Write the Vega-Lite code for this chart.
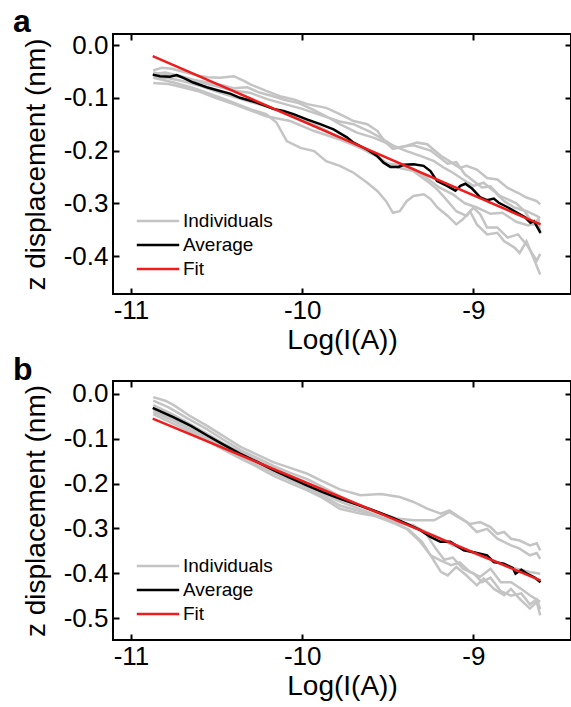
{
  "$schema": "https://vega.github.io/schema/vega-lite/v6.json",
  "background": "white",
  "padding": {"left": 12, "top": 5, "right": 0, "bottom": 0},
  "config": {
    "font": "Liberation Sans",
    "view": {"stroke": "black", "strokeWidth": 2},
    "axis": {"domain": false, "grid": false, "ticks": true, "tickColor": "black", "tickWidth": 2, "tickSize": -6, "labelColor": "black", "labelFontSize": 26, "titleFontSize": 28, "titleFontWeight": "normal", "titleColor": "black"},
    "legend": {"orient": "none", "symbolType": "M-2,0H2", "symbolSize": 450, "symbolStrokeWidth": 2.5, "labelFontSize": 19, "labelColor": "black", "rowPadding": 2, "labelOffset": 13, "padding": 0, "title": null},
    "title": {"anchor": "start", "frame": "group", "fontSize": 32, "fontWeight": "bold", "color": "black", "dx": -100, "baseline": "alphabetic", "offset": -7}
  },
  "resolve": {"scale": {"color": "independent"}, "legend": {"color": "independent"}},
  "spacing": -2,
  "datasets": {
    "a": [
      {"s":"Individuals","c":"1","x":-10.87,"y":-0.048},{"s":"Individuals","c":"1","x":-10.82,"y":-0.043},{"s":"Individuals","c":"1","x":-10.76,"y":-0.045},{"s":"Individuals","c":"1","x":-10.70,"y":-0.050},{"s":"Individuals","c":"1","x":-10.62,"y":-0.057},{"s":"Individuals","c":"1","x":-10.55,"y":-0.061},{"s":"Individuals","c":"1","x":-10.48,"y":-0.062},{"s":"Individuals","c":"1","x":-10.40,"y":-0.059},{"s":"Individuals","c":"1","x":-10.34,"y":-0.068},{"s":"Individuals","c":"1","x":-10.30,"y":-0.075},{"s":"Individuals","c":"1","x":-10.21,"y":-0.087},{"s":"Individuals","c":"1","x":-10.13,"y":-0.097},{"s":"Individuals","c":"1","x":-10.05,"y":-0.103},{"s":"Individuals","c":"1","x":-9.97,"y":-0.112},{"s":"Individuals","c":"1","x":-9.86,"y":-0.119},{"s":"Individuals","c":"1","x":-9.78,"y":-0.131},{"s":"Individuals","c":"1","x":-9.70,"y":-0.144},{"s":"Individuals","c":"1","x":-9.62,"y":-0.150},{"s":"Individuals","c":"1","x":-9.56,"y":-0.163},{"s":"Individuals","c":"1","x":-9.52,"y":-0.182},{"s":"Individuals","c":"1","x":-9.47,"y":-0.197},{"s":"Individuals","c":"1","x":-9.39,"y":-0.191},{"s":"Individuals","c":"1","x":-9.33,"y":-0.185},{"s":"Individuals","c":"1","x":-9.27,"y":-0.188},{"s":"Individuals","c":"1","x":-9.19,"y":-0.210},{"s":"Individuals","c":"1","x":-9.14,"y":-0.220},{"s":"Individuals","c":"1","x":-9.08,"y":-0.233},{"s":"Individuals","c":"1","x":-9.04,"y":-0.229},{"s":"Individuals","c":"1","x":-8.98,"y":-0.236},{"s":"Individuals","c":"1","x":-8.92,"y":-0.252},{"s":"Individuals","c":"1","x":-8.86,"y":-0.255},{"s":"Individuals","c":"1","x":-8.80,"y":-0.271},{"s":"Individuals","c":"1","x":-8.74,"y":-0.280},{"s":"Individuals","c":"1","x":-8.69,"y":-0.289},{"s":"Individuals","c":"1","x":-8.63,"y":-0.296},{"s":"Individuals","c":"1","x":-8.61,"y":-0.302},
      {"s":"Individuals","c":"2","x":-10.87,"y":-0.055},{"s":"Individuals","c":"2","x":-10.80,"y":-0.052},{"s":"Individuals","c":"2","x":-10.72,"y":-0.058},{"s":"Individuals","c":"2","x":-10.63,"y":-0.066},{"s":"Individuals","c":"2","x":-10.55,"y":-0.071},{"s":"Individuals","c":"2","x":-10.48,"y":-0.075},{"s":"Individuals","c":"2","x":-10.40,"y":-0.082},{"s":"Individuals","c":"2","x":-10.32,"y":-0.080},{"s":"Individuals","c":"2","x":-10.25,"y":-0.090},{"s":"Individuals","c":"2","x":-10.17,"y":-0.097},{"s":"Individuals","c":"2","x":-10.10,"y":-0.104},{"s":"Individuals","c":"2","x":-10.02,"y":-0.110},{"s":"Individuals","c":"2","x":-9.94,"y":-0.122},{"s":"Individuals","c":"2","x":-9.86,"y":-0.135},{"s":"Individuals","c":"2","x":-9.78,"y":-0.150},{"s":"Individuals","c":"2","x":-9.68,"y":-0.166},{"s":"Individuals","c":"2","x":-9.58,"y":-0.176},{"s":"Individuals","c":"2","x":-9.49,"y":-0.188},{"s":"Individuals","c":"2","x":-9.39,"y":-0.201},{"s":"Individuals","c":"2","x":-9.31,"y":-0.210},{"s":"Individuals","c":"2","x":-9.23,"y":-0.220},{"s":"Individuals","c":"2","x":-9.17,"y":-0.233},{"s":"Individuals","c":"2","x":-9.12,"y":-0.242},{"s":"Individuals","c":"2","x":-9.06,"y":-0.255},{"s":"Individuals","c":"2","x":-9.00,"y":-0.267},{"s":"Individuals","c":"2","x":-8.94,"y":-0.261},{"s":"Individuals","c":"2","x":-8.88,"y":-0.277},{"s":"Individuals","c":"2","x":-8.82,"y":-0.296},{"s":"Individuals","c":"2","x":-8.76,"y":-0.308},{"s":"Individuals","c":"2","x":-8.69,"y":-0.315},{"s":"Individuals","c":"2","x":-8.63,"y":-0.324},{"s":"Individuals","c":"2","x":-8.61,"y":-0.328},
      {"s":"Individuals","c":"3","x":-10.87,"y":-0.060},{"s":"Individuals","c":"3","x":-10.78,"y":-0.063},{"s":"Individuals","c":"3","x":-10.70,"y":-0.068},{"s":"Individuals","c":"3","x":-10.60,"y":-0.077},{"s":"Individuals","c":"3","x":-10.50,"y":-0.088},{"s":"Individuals","c":"3","x":-10.40,"y":-0.098},{"s":"Individuals","c":"3","x":-10.30,"y":-0.108},{"s":"Individuals","c":"3","x":-10.20,"y":-0.117},{"s":"Individuals","c":"3","x":-10.10,"y":-0.130},{"s":"Individuals","c":"3","x":-10.00,"y":-0.142},{"s":"Individuals","c":"3","x":-9.90,"y":-0.155},{"s":"Individuals","c":"3","x":-9.78,"y":-0.176},{"s":"Individuals","c":"3","x":-9.66,"y":-0.195},{"s":"Individuals","c":"3","x":-9.58,"y":-0.207},{"s":"Individuals","c":"3","x":-9.51,"y":-0.223},{"s":"Individuals","c":"3","x":-9.43,"y":-0.233},{"s":"Individuals","c":"3","x":-9.35,"y":-0.239},{"s":"Individuals","c":"3","x":-9.27,"y":-0.258},{"s":"Individuals","c":"3","x":-9.21,"y":-0.274},{"s":"Individuals","c":"3","x":-9.15,"y":-0.296},{"s":"Individuals","c":"3","x":-9.10,"y":-0.315},{"s":"Individuals","c":"3","x":-9.04,"y":-0.324},{"s":"Individuals","c":"3","x":-9.00,"y":-0.308},{"s":"Individuals","c":"3","x":-8.96,"y":-0.321},{"s":"Individuals","c":"3","x":-8.92,"y":-0.346},{"s":"Individuals","c":"3","x":-8.86,"y":-0.346},{"s":"Individuals","c":"3","x":-8.80,"y":-0.365},{"s":"Individuals","c":"3","x":-8.74,"y":-0.359},{"s":"Individuals","c":"3","x":-8.69,"y":-0.378},{"s":"Individuals","c":"3","x":-8.63,"y":-0.409},{"s":"Individuals","c":"3","x":-8.61,"y":-0.396},
      {"s":"Individuals","c":"4","x":-10.87,"y":-0.072},{"s":"Individuals","c":"4","x":-10.78,"y":-0.074},{"s":"Individuals","c":"4","x":-10.70,"y":-0.080},{"s":"Individuals","c":"4","x":-10.60,"y":-0.088},{"s":"Individuals","c":"4","x":-10.50,"y":-0.101},{"s":"Individuals","c":"4","x":-10.40,"y":-0.112},{"s":"Individuals","c":"4","x":-10.30,"y":-0.124},{"s":"Individuals","c":"4","x":-10.21,"y":-0.135},{"s":"Individuals","c":"4","x":-10.07,"y":-0.144},{"s":"Individuals","c":"4","x":-9.93,"y":-0.163},{"s":"Individuals","c":"4","x":-9.78,"y":-0.179},{"s":"Individuals","c":"4","x":-9.66,"y":-0.195},{"s":"Individuals","c":"4","x":-9.57,"y":-0.210},{"s":"Individuals","c":"4","x":-9.50,"y":-0.225},{"s":"Individuals","c":"4","x":-9.42,"y":-0.228},{"s":"Individuals","c":"4","x":-9.35,"y":-0.235},{"s":"Individuals","c":"4","x":-9.28,"y":-0.250},{"s":"Individuals","c":"4","x":-9.20,"y":-0.270},{"s":"Individuals","c":"4","x":-9.12,"y":-0.283},{"s":"Individuals","c":"4","x":-9.05,"y":-0.300},{"s":"Individuals","c":"4","x":-8.98,"y":-0.308},{"s":"Individuals","c":"4","x":-8.90,"y":-0.320},{"s":"Individuals","c":"4","x":-8.83,"y":-0.318},{"s":"Individuals","c":"4","x":-8.75,"y":-0.335},{"s":"Individuals","c":"4","x":-8.68,"y":-0.342},{"s":"Individuals","c":"4","x":-8.63,"y":-0.337},{"s":"Individuals","c":"4","x":-8.61,"y":-0.353},
      {"s":"Individuals","c":"5","x":-10.87,"y":-0.052},{"s":"Individuals","c":"5","x":-10.80,"y":-0.056},{"s":"Individuals","c":"5","x":-10.70,"y":-0.061},{"s":"Individuals","c":"5","x":-10.60,"y":-0.070},{"s":"Individuals","c":"5","x":-10.50,"y":-0.078},{"s":"Individuals","c":"5","x":-10.40,"y":-0.086},{"s":"Individuals","c":"5","x":-10.30,"y":-0.091},{"s":"Individuals","c":"5","x":-10.20,"y":-0.103},{"s":"Individuals","c":"5","x":-10.10,"y":-0.112},{"s":"Individuals","c":"5","x":-10.00,"y":-0.121},{"s":"Individuals","c":"5","x":-9.90,"y":-0.132},{"s":"Individuals","c":"5","x":-9.78,"y":-0.145},{"s":"Individuals","c":"5","x":-9.70,"y":-0.150},{"s":"Individuals","c":"5","x":-9.60,"y":-0.165},{"s":"Individuals","c":"5","x":-9.52,"y":-0.180},{"s":"Individuals","c":"5","x":-9.45,"y":-0.195},{"s":"Individuals","c":"5","x":-9.40,"y":-0.192},{"s":"Individuals","c":"5","x":-9.35,"y":-0.190},{"s":"Individuals","c":"5","x":-9.25,"y":-0.200},{"s":"Individuals","c":"5","x":-9.15,"y":-0.225},{"s":"Individuals","c":"5","x":-9.10,"y":-0.222},{"s":"Individuals","c":"5","x":-9.05,"y":-0.245},{"s":"Individuals","c":"5","x":-8.95,"y":-0.270},{"s":"Individuals","c":"5","x":-8.90,"y":-0.268},{"s":"Individuals","c":"5","x":-8.85,"y":-0.285},{"s":"Individuals","c":"5","x":-8.75,"y":-0.300},{"s":"Individuals","c":"5","x":-8.70,"y":-0.315},{"s":"Individuals","c":"5","x":-8.65,"y":-0.340},{"s":"Individuals","c":"5","x":-8.62,"y":-0.330},{"s":"Individuals","c":"5","x":-8.61,"y":-0.358},
      {"s":"Individuals","c":"6","x":-10.87,"y":-0.062},{"s":"Individuals","c":"6","x":-10.75,"y":-0.071},{"s":"Individuals","c":"6","x":-10.64,"y":-0.081},{"s":"Individuals","c":"6","x":-10.50,"y":-0.097},{"s":"Individuals","c":"6","x":-10.40,"y":-0.109},{"s":"Individuals","c":"6","x":-10.30,"y":-0.122},{"s":"Individuals","c":"6","x":-10.21,"y":-0.131},{"s":"Individuals","c":"6","x":-10.15,"y":-0.147},{"s":"Individuals","c":"6","x":-10.09,"y":-0.182},{"s":"Individuals","c":"6","x":-10.01,"y":-0.195},{"s":"Individuals","c":"6","x":-9.93,"y":-0.201},{"s":"Individuals","c":"6","x":-9.86,"y":-0.220},{"s":"Individuals","c":"6","x":-9.78,"y":-0.229},{"s":"Individuals","c":"6","x":-9.70,"y":-0.242},{"s":"Individuals","c":"6","x":-9.62,"y":-0.261},{"s":"Individuals","c":"6","x":-9.56,"y":-0.277},{"s":"Individuals","c":"6","x":-9.51,"y":-0.296},{"s":"Individuals","c":"6","x":-9.47,"y":-0.318},{"s":"Individuals","c":"6","x":-9.43,"y":-0.315},{"s":"Individuals","c":"6","x":-9.39,"y":-0.296},{"s":"Individuals","c":"6","x":-9.35,"y":-0.286},{"s":"Individuals","c":"6","x":-9.29,"y":-0.283},{"s":"Individuals","c":"6","x":-9.25,"y":-0.292},{"s":"Individuals","c":"6","x":-9.21,"y":-0.308},{"s":"Individuals","c":"6","x":-9.15,"y":-0.324},{"s":"Individuals","c":"6","x":-9.10,"y":-0.340},{"s":"Individuals","c":"6","x":-9.06,"y":-0.330},{"s":"Individuals","c":"6","x":-9.02,"y":-0.315},{"s":"Individuals","c":"6","x":-8.98,"y":-0.340},{"s":"Individuals","c":"6","x":-8.92,"y":-0.359},{"s":"Individuals","c":"6","x":-8.86,"y":-0.356},{"s":"Individuals","c":"6","x":-8.82,"y":-0.372},{"s":"Individuals","c":"6","x":-8.76,"y":-0.384},{"s":"Individuals","c":"6","x":-8.73,"y":-0.394},{"s":"Individuals","c":"6","x":-8.69,"y":-0.372},{"s":"Individuals","c":"6","x":-8.65,"y":-0.403},{"s":"Individuals","c":"6","x":-8.61,"y":-0.435},
      {"s":"Average","c":"avg","x":-10.873,"y":-0.056},{"s":"Average","c":"avg","x":-10.83,"y":-0.059},{"s":"Average","c":"avg","x":-10.772,"y":-0.060},{"s":"Average","c":"avg","x":-10.733,"y":-0.057},{"s":"Average","c":"avg","x":-10.694,"y":-0.062},{"s":"Average","c":"avg","x":-10.636,"y":-0.071},{"s":"Average","c":"avg","x":-10.557,"y":-0.080},{"s":"Average","c":"avg","x":-10.48,"y":-0.087},{"s":"Average","c":"avg","x":-10.421,"y":-0.092},{"s":"Average","c":"avg","x":-10.363,"y":-0.100},{"s":"Average","c":"avg","x":-10.285,"y":-0.107},{"s":"Average","c":"avg","x":-10.206,"y":-0.116},{"s":"Average","c":"avg","x":-10.168,"y":-0.121},{"s":"Average","c":"avg","x":-10.109,"y":-0.125},{"s":"Average","c":"avg","x":-10.051,"y":-0.131},{"s":"Average","c":"avg","x":-9.973,"y":-0.141},{"s":"Average","c":"avg","x":-9.895,"y":-0.150},{"s":"Average","c":"avg","x":-9.817,"y":-0.160},{"s":"Average","c":"avg","x":-9.739,"y":-0.175},{"s":"Average","c":"avg","x":-9.700,"y":-0.185},{"s":"Average","c":"avg","x":-9.622,"y":-0.198},{"s":"Average","c":"avg","x":-9.563,"y":-0.210},{"s":"Average","c":"avg","x":-9.525,"y":-0.223},{"s":"Average","c":"avg","x":-9.485,"y":-0.231},{"s":"Average","c":"avg","x":-9.437,"y":-0.231},{"s":"Average","c":"avg","x":-9.407,"y":-0.227},{"s":"Average","c":"avg","x":-9.349,"y":-0.226},{"s":"Average","c":"avg","x":-9.291,"y":-0.229},{"s":"Average","c":"avg","x":-9.251,"y":-0.239},{"s":"Average","c":"avg","x":-9.212,"y":-0.258},{"s":"Average","c":"avg","x":-9.154,"y":-0.267},{"s":"Average","c":"avg","x":-9.105,"y":-0.276},{"s":"Average","c":"avg","x":-9.076,"y":-0.267},{"s":"Average","c":"avg","x":-9.047,"y":-0.263},{"s":"Average","c":"avg","x":-9.008,"y":-0.272},{"s":"Average","c":"avg","x":-8.959,"y":-0.289},{"s":"Average","c":"avg","x":-8.920,"y":-0.294},{"s":"Average","c":"avg","x":-8.881,"y":-0.291},{"s":"Average","c":"avg","x":-8.852,"y":-0.299},{"s":"Average","c":"avg","x":-8.803,"y":-0.307},{"s":"Average","c":"avg","x":-8.744,"y":-0.318},{"s":"Average","c":"avg","x":-8.696,"y":-0.327},{"s":"Average","c":"avg","x":-8.667,"y":-0.337},{"s":"Average","c":"avg","x":-8.647,"y":-0.334},{"s":"Average","c":"avg","x":-8.608,"y":-0.356},
      {"s":"Fit","c":"fit","x":-10.873,"y":-0.021},{"s":"Fit","c":"fit","x":-8.608,"y":-0.340}
    ],
    "b": [
      {"s":"Individuals","c":"1","x":-10.87,"y":-0.007},{"s":"Individuals","c":"1","x":-10.80,"y":-0.015},{"s":"Individuals","c":"1","x":-10.75,"y":-0.025},{"s":"Individuals","c":"1","x":-10.66,"y":-0.048},{"s":"Individuals","c":"1","x":-10.56,"y":-0.070},{"s":"Individuals","c":"1","x":-10.46,"y":-0.094},{"s":"Individuals","c":"1","x":-10.36,"y":-0.118},{"s":"Individuals","c":"1","x":-10.26,"y":-0.136},{"s":"Individuals","c":"1","x":-10.17,"y":-0.152},{"s":"Individuals","c":"1","x":-10.07,"y":-0.165},{"s":"Individuals","c":"1","x":-9.97,"y":-0.178},{"s":"Individuals","c":"1","x":-9.88,"y":-0.195},{"s":"Individuals","c":"1","x":-9.78,"y":-0.213},{"s":"Individuals","c":"1","x":-9.66,"y":-0.226},{"s":"Individuals","c":"1","x":-9.54,"y":-0.223},{"s":"Individuals","c":"1","x":-9.43,"y":-0.230},{"s":"Individuals","c":"1","x":-9.35,"y":-0.241},{"s":"Individuals","c":"1","x":-9.27,"y":-0.256},{"s":"Individuals","c":"1","x":-9.19,"y":-0.267},{"s":"Individuals","c":"1","x":-9.14,"y":-0.260},{"s":"Individuals","c":"1","x":-9.08,"y":-0.275},{"s":"Individuals","c":"1","x":-9.02,"y":-0.290},{"s":"Individuals","c":"1","x":-8.96,"y":-0.286},{"s":"Individuals","c":"1","x":-8.90,"y":-0.297},{"s":"Individuals","c":"1","x":-8.86,"y":-0.312},{"s":"Individuals","c":"1","x":-8.82,"y":-0.308},{"s":"Individuals","c":"1","x":-8.78,"y":-0.323},{"s":"Individuals","c":"1","x":-8.73,"y":-0.327},{"s":"Individuals","c":"1","x":-8.67,"y":-0.338},{"s":"Individuals","c":"1","x":-8.63,"y":-0.333},{"s":"Individuals","c":"1","x":-8.61,"y":-0.349},
      {"s":"Individuals","c":"2","x":-10.87,"y":-0.015},{"s":"Individuals","c":"2","x":-10.78,"y":-0.030},{"s":"Individuals","c":"2","x":-10.68,"y":-0.052},{"s":"Individuals","c":"2","x":-10.56,"y":-0.078},{"s":"Individuals","c":"2","x":-10.46,"y":-0.102},{"s":"Individuals","c":"2","x":-10.36,"y":-0.125},{"s":"Individuals","c":"2","x":-10.26,"y":-0.143},{"s":"Individuals","c":"2","x":-10.17,"y":-0.160},{"s":"Individuals","c":"2","x":-10.07,"y":-0.176},{"s":"Individuals","c":"2","x":-9.97,"y":-0.190},{"s":"Individuals","c":"2","x":-9.88,"y":-0.208},{"s":"Individuals","c":"2","x":-9.78,"y":-0.228},{"s":"Individuals","c":"2","x":-9.68,"y":-0.246},{"s":"Individuals","c":"2","x":-9.58,"y":-0.263},{"s":"Individuals","c":"2","x":-9.45,"y":-0.278},{"s":"Individuals","c":"2","x":-9.35,"y":-0.282},{"s":"Individuals","c":"2","x":-9.23,"y":-0.282},{"s":"Individuals","c":"2","x":-9.14,"y":-0.263},{"s":"Individuals","c":"2","x":-9.04,"y":-0.286},{"s":"Individuals","c":"2","x":-8.98,"y":-0.308},{"s":"Individuals","c":"2","x":-8.92,"y":-0.301},{"s":"Individuals","c":"2","x":-8.86,"y":-0.323},{"s":"Individuals","c":"2","x":-8.78,"y":-0.338},{"s":"Individuals","c":"2","x":-8.73,"y":-0.345},{"s":"Individuals","c":"2","x":-8.67,"y":-0.360},{"s":"Individuals","c":"2","x":-8.63,"y":-0.355},{"s":"Individuals","c":"2","x":-8.61,"y":-0.368},
      {"s":"Individuals","c":"3","x":-10.87,"y":-0.025},{"s":"Individuals","c":"3","x":-10.76,"y":-0.045},{"s":"Individuals","c":"3","x":-10.66,"y":-0.066},{"s":"Individuals","c":"3","x":-10.56,"y":-0.088},{"s":"Individuals","c":"3","x":-10.46,"y":-0.110},{"s":"Individuals","c":"3","x":-10.36,"y":-0.130},{"s":"Individuals","c":"3","x":-10.26,"y":-0.148},{"s":"Individuals","c":"3","x":-10.17,"y":-0.165},{"s":"Individuals","c":"3","x":-10.07,"y":-0.182},{"s":"Individuals","c":"3","x":-9.97,"y":-0.198},{"s":"Individuals","c":"3","x":-9.88,"y":-0.214},{"s":"Individuals","c":"3","x":-9.78,"y":-0.232},{"s":"Individuals","c":"3","x":-9.66,"y":-0.248},{"s":"Individuals","c":"3","x":-9.54,"y":-0.266},{"s":"Individuals","c":"3","x":-9.42,"y":-0.285},{"s":"Individuals","c":"3","x":-9.32,"y":-0.300},{"s":"Individuals","c":"3","x":-9.22,"y":-0.318},{"s":"Individuals","c":"3","x":-9.12,"y":-0.338},{"s":"Individuals","c":"3","x":-9.04,"y":-0.348},{"s":"Individuals","c":"3","x":-8.96,"y":-0.362},{"s":"Individuals","c":"3","x":-8.88,"y":-0.372},{"s":"Individuals","c":"3","x":-8.80,"y":-0.386},{"s":"Individuals","c":"3","x":-8.72,"y":-0.392},{"s":"Individuals","c":"3","x":-8.66,"y":-0.398},{"s":"Individuals","c":"3","x":-8.61,"y":-0.401},
      {"s":"Individuals","c":"4","x":-10.87,"y":-0.035},{"s":"Individuals","c":"4","x":-10.76,"y":-0.055},{"s":"Individuals","c":"4","x":-10.66,"y":-0.076},{"s":"Individuals","c":"4","x":-10.56,"y":-0.098},{"s":"Individuals","c":"4","x":-10.46,"y":-0.118},{"s":"Individuals","c":"4","x":-10.36,"y":-0.135},{"s":"Individuals","c":"4","x":-10.26,"y":-0.153},{"s":"Individuals","c":"4","x":-10.17,"y":-0.170},{"s":"Individuals","c":"4","x":-10.07,"y":-0.188},{"s":"Individuals","c":"4","x":-9.97,"y":-0.205},{"s":"Individuals","c":"4","x":-9.88,"y":-0.222},{"s":"Individuals","c":"4","x":-9.78,"y":-0.240},{"s":"Individuals","c":"4","x":-9.66,"y":-0.257},{"s":"Individuals","c":"4","x":-9.54,"y":-0.275},{"s":"Individuals","c":"4","x":-9.45,"y":-0.290},{"s":"Individuals","c":"4","x":-9.38,"y":-0.302},{"s":"Individuals","c":"4","x":-9.30,"y":-0.330},{"s":"Individuals","c":"4","x":-9.25,"y":-0.360},{"s":"Individuals","c":"4","x":-9.19,"y":-0.372},{"s":"Individuals","c":"4","x":-9.13,"y":-0.382},{"s":"Individuals","c":"4","x":-9.08,"y":-0.376},{"s":"Individuals","c":"4","x":-9.02,"y":-0.397},{"s":"Individuals","c":"4","x":-8.96,"y":-0.408},{"s":"Individuals","c":"4","x":-8.90,"y":-0.390},{"s":"Individuals","c":"4","x":-8.84,"y":-0.420},{"s":"Individuals","c":"4","x":-8.78,"y":-0.420},{"s":"Individuals","c":"4","x":-8.72,"y":-0.435},{"s":"Individuals","c":"4","x":-8.67,"y":-0.449},{"s":"Individuals","c":"4","x":-8.61,"y":-0.464},
      {"s":"Individuals","c":"5","x":-10.87,"y":-0.045},{"s":"Individuals","c":"5","x":-10.76,"y":-0.065},{"s":"Individuals","c":"5","x":-10.66,"y":-0.084},{"s":"Individuals","c":"5","x":-10.56,"y":-0.103},{"s":"Individuals","c":"5","x":-10.46,"y":-0.124},{"s":"Individuals","c":"5","x":-10.36,"y":-0.144},{"s":"Individuals","c":"5","x":-10.26,"y":-0.163},{"s":"Individuals","c":"5","x":-10.17,"y":-0.182},{"s":"Individuals","c":"5","x":-10.07,"y":-0.199},{"s":"Individuals","c":"5","x":-9.97,"y":-0.215},{"s":"Individuals","c":"5","x":-9.88,"y":-0.232},{"s":"Individuals","c":"5","x":-9.78,"y":-0.256},{"s":"Individuals","c":"5","x":-9.66,"y":-0.267},{"s":"Individuals","c":"5","x":-9.58,"y":-0.272},{"s":"Individuals","c":"5","x":-9.48,"y":-0.286},{"s":"Individuals","c":"5","x":-9.39,"y":-0.301},{"s":"Individuals","c":"5","x":-9.31,"y":-0.330},{"s":"Individuals","c":"5","x":-9.25,"y":-0.360},{"s":"Individuals","c":"5","x":-9.19,"y":-0.397},{"s":"Individuals","c":"5","x":-9.15,"y":-0.405},{"s":"Individuals","c":"5","x":-9.10,"y":-0.386},{"s":"Individuals","c":"5","x":-9.04,"y":-0.405},{"s":"Individuals","c":"5","x":-8.98,"y":-0.427},{"s":"Individuals","c":"5","x":-8.94,"y":-0.412},{"s":"Individuals","c":"5","x":-8.88,"y":-0.435},{"s":"Individuals","c":"5","x":-8.82,"y":-0.449},{"s":"Individuals","c":"5","x":-8.78,"y":-0.435},{"s":"Individuals","c":"5","x":-8.73,"y":-0.457},{"s":"Individuals","c":"5","x":-8.67,"y":-0.479},{"s":"Individuals","c":"5","x":-8.63,"y":-0.464},{"s":"Individuals","c":"5","x":-8.61,"y":-0.494},
      {"s":"Individuals","c":"6","x":-10.87,"y":-0.040},{"s":"Individuals","c":"6","x":-10.76,"y":-0.058},{"s":"Individuals","c":"6","x":-10.66,"y":-0.079},{"s":"Individuals","c":"6","x":-10.56,"y":-0.100},{"s":"Individuals","c":"6","x":-10.46,"y":-0.121},{"s":"Individuals","c":"6","x":-10.36,"y":-0.140},{"s":"Individuals","c":"6","x":-10.26,"y":-0.158},{"s":"Individuals","c":"6","x":-10.17,"y":-0.176},{"s":"Individuals","c":"6","x":-10.07,"y":-0.193},{"s":"Individuals","c":"6","x":-9.97,"y":-0.210},{"s":"Individuals","c":"6","x":-9.88,"y":-0.227},{"s":"Individuals","c":"6","x":-9.78,"y":-0.249},{"s":"Individuals","c":"6","x":-9.66,"y":-0.262},{"s":"Individuals","c":"6","x":-9.54,"y":-0.275},{"s":"Individuals","c":"6","x":-9.44,"y":-0.288},{"s":"Individuals","c":"6","x":-9.35,"y":-0.293},{"s":"Individuals","c":"6","x":-9.28,"y":-0.310},{"s":"Individuals","c":"6","x":-9.22,"y":-0.345},{"s":"Individuals","c":"6","x":-9.17,"y":-0.370},{"s":"Individuals","c":"6","x":-9.12,"y":-0.365},{"s":"Individuals","c":"6","x":-9.06,"y":-0.390},{"s":"Individuals","c":"6","x":-9.00,"y":-0.400},{"s":"Individuals","c":"6","x":-8.95,"y":-0.420},{"s":"Individuals","c":"6","x":-8.90,"y":-0.410},{"s":"Individuals","c":"6","x":-8.84,"y":-0.440},{"s":"Individuals","c":"6","x":-8.78,"y":-0.450},{"s":"Individuals","c":"6","x":-8.72,"y":-0.445},{"s":"Individuals","c":"6","x":-8.67,"y":-0.470},{"s":"Individuals","c":"6","x":-8.63,"y":-0.458},{"s":"Individuals","c":"6","x":-8.61,"y":-0.480},
      {"s":"Average","c":"avg","x":-10.873,"y":-0.031},{"s":"Average","c":"avg","x":-10.75,"y":-0.052},{"s":"Average","c":"avg","x":-10.65,"y":-0.071},{"s":"Average","c":"avg","x":-10.557,"y":-0.092},{"s":"Average","c":"avg","x":-10.46,"y":-0.113},{"s":"Average","c":"avg","x":-10.363,"y":-0.133},{"s":"Average","c":"avg","x":-10.26,"y":-0.152},{"s":"Average","c":"avg","x":-10.168,"y":-0.170},{"s":"Average","c":"avg","x":-10.07,"y":-0.187},{"s":"Average","c":"avg","x":-9.973,"y":-0.204},{"s":"Average","c":"avg","x":-9.88,"y":-0.219},{"s":"Average","c":"avg","x":-9.778,"y":-0.234},{"s":"Average","c":"avg","x":-9.68,"y":-0.247},{"s":"Average","c":"avg","x":-9.583,"y":-0.260},{"s":"Average","c":"avg","x":-9.48,"y":-0.275},{"s":"Average","c":"avg","x":-9.388,"y":-0.290},{"s":"Average","c":"avg","x":-9.31,"y":-0.304},{"s":"Average","c":"avg","x":-9.251,"y":-0.319},{"s":"Average","c":"avg","x":-9.193,"y":-0.330},{"s":"Average","c":"avg","x":-9.135,"y":-0.330},{"s":"Average","c":"avg","x":-9.056,"y":-0.349},{"s":"Average","c":"avg","x":-8.998,"y":-0.353},{"s":"Average","c":"avg","x":-8.920,"y":-0.360},{"s":"Average","c":"avg","x":-8.881,"y":-0.375},{"s":"Average","c":"avg","x":-8.823,"y":-0.379},{"s":"Average","c":"avg","x":-8.77,"y":-0.388},{"s":"Average","c":"avg","x":-8.754,"y":-0.401},{"s":"Average","c":"avg","x":-8.72,"y":-0.392},{"s":"Average","c":"avg","x":-8.686,"y":-0.401},{"s":"Average","c":"avg","x":-8.64,"y":-0.410},{"s":"Average","c":"avg","x":-8.608,"y":-0.420},
      {"s":"Fit","c":"fit","x":-10.873,"y":-0.055},{"s":"Fit","c":"fit","x":-8.608,"y":-0.416}
    ]
  },
  "vconcat": [
    {
      "width": 458, "height": 260,
      "title": {"text": "a"},
      "data": {"name": "a"},
      "layer": [
        {"transform": [{"filter": "datum.s == 'Individuals'"}],
         "mark": {"type": "line", "strokeWidth": 2.5},
         "encoding": {
           "x": {"field": "x", "type": "quantitative", "scale": {"domain": [-11.105, -8.43], "nice": false, "zero": false}, "axis": {"values": [-11, -10, -9], "title": "Log(I(A))", "labelExpr": "replace(format(datum.value,'d'),'\u2212','-')", "labelPadding": 9, "titlePadding": 3}},
           "y": {"field": "y", "type": "quantitative", "scale": {"domain": [-0.472, 0.021], "nice": false, "zero": false}, "axis": {"values": [0, -0.1, -0.2, -0.3, -0.4], "title": "z displacement (nm)", "labelExpr": "replace(format(datum.value,'.1f'),'\u2212','-')", "labelPadding": 11, "titlePadding": 13}},
           "color": {"field": "s", "type": "nominal", "scale": {"domain": ["Individuals", "Average", "Fit"], "range": ["#c4c4c4", "#000000", "#ee1c1c"]}, "legend": {"legendX": 33, "legendY": 175}},
           "detail": {"field": "c"}
         }},
        {"transform": [{"filter": "datum.s == 'Average'"}],
         "mark": {"type": "line", "strokeWidth": 2.5},
         "encoding": {
           "x": {"field": "x", "type": "quantitative", "axis": null},
           "y": {"field": "y", "type": "quantitative", "axis": null},
           "color": {"field": "s", "type": "nominal"}
         }},
        {"transform": [{"filter": "datum.s == 'Fit'"}],
         "mark": {"type": "line", "strokeWidth": 2.5},
         "encoding": {
           "x": {"field": "x", "type": "quantitative", "axis": {"orient": "top", "values": [-11, -10, -9], "labels": false, "title": null}},
           "y": {"field": "y", "type": "quantitative", "axis": {"orient": "right", "values": [0, -0.1, -0.2, -0.3, -0.4], "labels": false, "title": null}},
           "color": {"field": "s", "type": "nominal"}
         }}
      ],
      "resolve": {"axis": {"x": "independent", "y": "independent"}}
    },
    {
      "width": 458, "height": 259,
      "title": {"text": "b"},
      "data": {"name": "b"},
      "layer": [
        {"transform": [{"filter": "datum.s == 'Individuals'"}],
         "mark": {"type": "line", "strokeWidth": 2.5},
         "encoding": {
           "x": {"field": "x", "type": "quantitative", "scale": {"domain": [-11.105, -8.43], "nice": false, "zero": false}, "axis": {"values": [-11, -10, -9], "title": "Log(I(A))", "labelExpr": "replace(format(datum.value,'d'),'\u2212','-')", "labelPadding": 9, "titlePadding": 3}},
           "y": {"field": "y", "type": "quantitative", "scale": {"domain": [-0.549, 0.029], "nice": false, "zero": false}, "axis": {"values": [0, -0.1, -0.2, -0.3, -0.4, -0.5], "title": "z displacement (nm)", "labelExpr": "replace(format(datum.value,'.1f'),'\u2212','-')", "labelPadding": 11, "titlePadding": 13}},
           "color": {"field": "s", "type": "nominal", "scale": {"domain": ["Individuals", "Average", "Fit"], "range": ["#c4c4c4", "#000000", "#ee1c1c"]}, "legend": {"legendX": 33, "legendY": 173}},
           "detail": {"field": "c"}
         }},
        {"transform": [{"filter": "datum.s == 'Average'"}],
         "mark": {"type": "line", "strokeWidth": 2.5},
         "encoding": {
           "x": {"field": "x", "type": "quantitative", "axis": null},
           "y": {"field": "y", "type": "quantitative", "axis": null},
           "color": {"field": "s", "type": "nominal"}
         }},
        {"transform": [{"filter": "datum.s == 'Fit'"}],
         "mark": {"type": "line", "strokeWidth": 2.5},
         "encoding": {
           "x": {"field": "x", "type": "quantitative", "axis": {"orient": "top", "values": [-11, -10, -9], "labels": false, "title": null}},
           "y": {"field": "y", "type": "quantitative", "axis": {"orient": "right", "values": [0, -0.1, -0.2, -0.3, -0.4, -0.5], "labels": false, "title": null}},
           "color": {"field": "s", "type": "nominal"}
         }}
      ],
      "resolve": {"axis": {"x": "independent", "y": "independent"}}
    }
  ]
}
